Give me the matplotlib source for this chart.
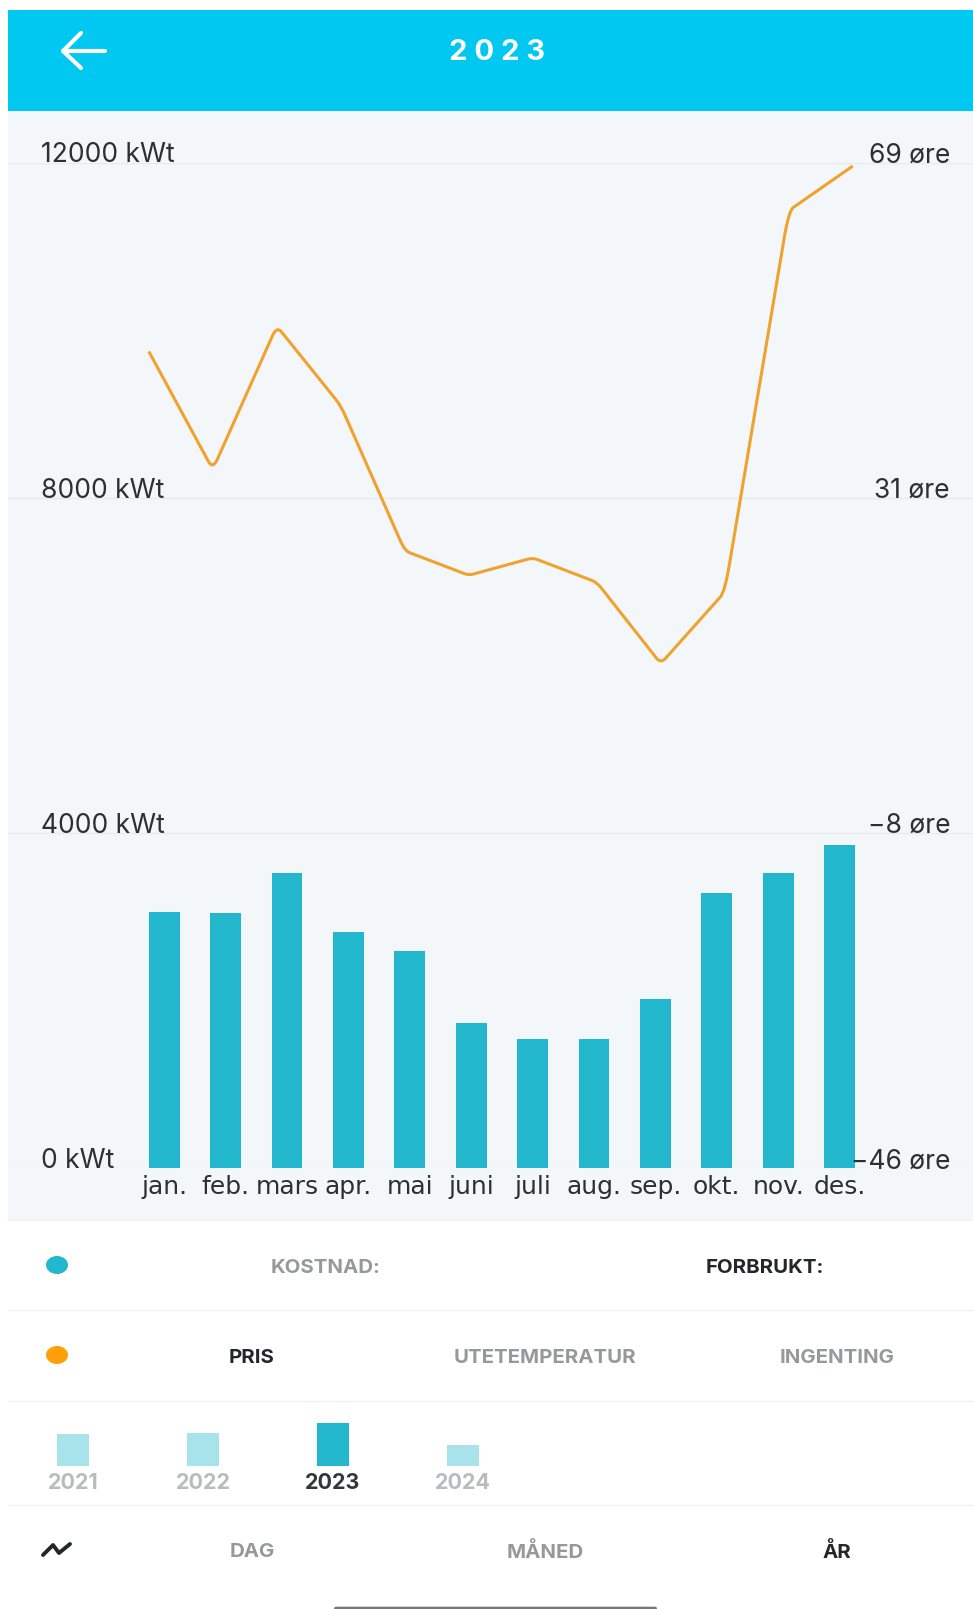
#!/usr/bin/env python3
import numpy as np
import matplotlib
matplotlib.use('Agg')
import matplotlib.pyplot as plt
from matplotlib.patches import Rectangle, PathPatch, Ellipse, FancyBboxPatch
from matplotlib.path import Path

W, H = 973, 1609

months = ['jan.', 'feb.', 'mars', 'apr.', 'mai', 'juni', 'juli', 'aug.', 'sep.', 'okt.', 'nov.', 'des.']
forbruk = [3055, 3043, 3521, 2822, 2589, 1730, 1546, 1546, 2025, 3288, 3521, 3853]
pris = [47.4, 33.9, 50.3, 41.2, 24.6, 21.8, 23.8, 21.0, 11.7, 19.9, 63.5, 68.6]
left_ticks = [0, 4000, 8000, 12000]
left_labels = ['0 kWt', '4000 kWt', '8000 kWt', '12000 kWt']
right_labels = ['\u221246 øre', '\u22128 øre', '31 øre', '69 øre']
years = ['2021', '2022', '2023', '2024']
year_totals = [21900, 22600, 29700, 14300]

BLUE = '#23b7cd'
LIGHT = '#a8e2ea'
ORANGE = '#f0a22e'
DARK = '#23272b'
GREY = '#96999c'
TXT = '#2c3033'

plt.rcParams['font.family'] = ['Inter', 'DejaVu Sans']

fig = plt.figure(figsize=(W / 100, H / 100), dpi=100, facecolor='white')

# overlay in pixels, y pointing down
ui = fig.add_axes([0, 0, 1, 1])
ui.set_xlim(0, W)
ui.set_ylim(H, 0)
ui.axis('off')


def px_axes(x0, y0, x1, y1):
    # axes placed with pixel coordinates of the screenshot
    return fig.add_axes([x0 / W, 1 - y1 / H, (x1 - x0) / W, (y1 - y0) / H])


ui.add_patch(Rectangle((8, 111), W - 8, 1109, color='#f3f7fa', lw=0))
ui.add_patch(Rectangle((8, 10), W - 8, 101, color='#00c8f0', lw=0))

# header
ui.plot([63, 105], [51, 51], color='white', lw=3, solid_capstyle='round')
ui.plot([81, 63, 81], [33, 51, 68], color='white', lw=3, solid_capstyle='round', solid_joinstyle='round')
ui.text(497, 52, '2 0 2 3', color='white', fontsize=21, fontweight='bold', ha='center', va='center')

# bars, left scale
top = 162.5
bottom = 1168.3
ax = px_axes(8, top, W, bottom)
ax.patch.set_alpha(0)
ax.bar(np.arange(12), forbruk, width=0.5, color=BLUE, lw=0)
ax.set_xlim((8 - 164.2) / 61.4, (W - 164.2) / 61.4)
ax.set_ylim(0, 12000)
ax.set_xticks(np.arange(12), months, family=['DejaVu Sans'])
ax.set_yticks(left_ticks, [])
ax.tick_params(length=0, pad=5, labelsize=18, labelcolor=TXT)
ax.grid(axis='y', color='#e7ebed', lw=1)
ax.set_axisbelow(True)
for s in ax.spines.values():
    s.set_visible(False)
# both label columns sit on the same gridlines
for t, lab, rlab in zip(left_ticks, left_labels, right_labels):
    ax.annotate(lab, (41, t), xycoords=('figure pixels', 'data'), fontsize=19, color=TXT,
                va='baseline', ha='left')
    ax.annotate(rlab, (950, t), xycoords=('figure pixels', 'data'), fontsize=19, color=TXT,
                va='baseline', ha='right')

# line, right scale
ax2 = px_axes(8, top, W, bottom)
ax2.patch.set_alpha(0)
ax2.set_xlim((8 - 148.8) / 64.0, (W - 148.8) / 64.0)
ax2.set_ylim(-46, 69)
ax2.axis('off')

pts = np.column_stack([np.arange(12), pris])
verts = [tuple(pts[0])]
codes = [Path.MOVETO]
r = 0.07
for i in range(1, 11):
    verts.append(tuple(pts[i] + (pts[i - 1] - pts[i]) * r))
    codes.append(Path.LINETO)
    verts.append(tuple(pts[i]))
    codes.append(Path.CURVE3)
    verts.append(tuple(pts[i] + (pts[i + 1] - pts[i]) * r))
    codes.append(Path.CURVE3)
verts.append(tuple(pts[11]))
codes.append(Path.LINETO)
ax2.add_patch(PathPatch(Path(verts, codes), fill=False, edgecolor=ORANGE, lw=2.2, capstyle='butt'))

# separators
for y in [1220, 1310, 1401, 1505]:
    ui.plot([8, W], [y, y], color='#eef0f1', lw=1)

# toggles
ui.add_patch(Ellipse((57, 1265), 22, 18, color=BLUE, lw=0))
ui.add_patch(Ellipse((57, 1355), 22, 18, color='#ff9f0a', lw=0))
rows = [
    (325, 1268, 'KOSTNAD:', GREY),
    (765, 1268, 'FORBRUKT:', DARK),
    (252, 1358, 'PRIS', DARK),
    (545, 1358, 'UTETEMPERATUR', GREY),
    (837, 1358, 'INGENTING', GREY),
    (252, 1552, 'DAG', GREY),
    (545, 1552, 'MÅNED', GREY),
    (837, 1552, 'ÅR', DARK),
]
for x, y, s, c in rows:
    ui.text(x, y, s, color=c, fontsize=14.7, fontweight='bold', ha='center', va='center')

# year picker
ax3 = px_axes(8, 1405, 528, 1465.7)
ax3.patch.set_alpha(0)
ax3.bar(np.arange(4), year_totals, width=32 / 130, lw=0,
        color=[BLUE if y == '2023' else LIGHT for y in years])
ax3.set_xlim((8 - 73) / 130, (528 - 73) / 130)
ax3.set_ylim(0, 29700 * 60.7 / 43)
ax3.axis('off')
for i, y in enumerate(years):
    ui.text(73 + 130 * i, 1483, y, color='#33363a' if y == '2023' else '#b9bbbd', fontsize=15.5,
            fontweight='bold', ha='center', va='center')

# chart icon
ui.plot([43, 53, 59, 70], [1555, 1545, 1553, 1544], color=DARK, lw=2.8, solid_capstyle='round',
        solid_joinstyle='round')

# home bar
ui.add_patch(FancyBboxPatch((334, 1606.7), 323, 4, boxstyle='round,pad=0,rounding_size=2', color='#777777', lw=0))

fig.savefig('out.png', dpi=100, facecolor='white')
